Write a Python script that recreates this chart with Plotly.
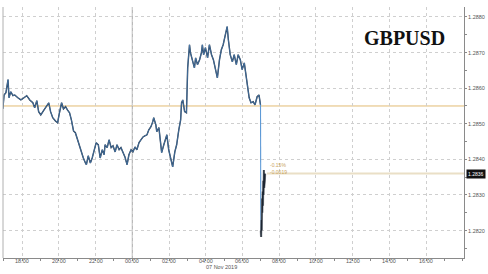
import plotly.graph_objects as go

# ---- data (GBPUSD, 6-7 Nov 2019) ----
day1_times = ["16:57","17:01","17:07","17:14","17:17","17:23","17:30","17:36","17:46","17:56",
              "18:06","18:15","18:25","18:35","18:41","18:48","18:54","19:01","19:10","19:17",
              "19:27","19:33","19:40","19:49","19:56","20:02","20:09","20:15","20:22","20:28",
              "20:35","20:41","20:48","20:54","21:01","21:07","21:14","21:20","21:27","21:30",
              "21:36","21:43","21:49","21:56","22:02","22:09","22:15","22:22","22:28","22:31",
              "22:38","22:44","22:51","22:57","23:04","23:10","23:17","23:23","23:30","23:36",
              "23:43","23:49","23:56"]
day1_prices = [1.28542,1.28581,1.28587,1.28624,1.28573,1.28590,1.28579,1.28581,1.28573,1.28567,
               1.28573,1.28579,1.28567,1.28559,1.28545,1.28565,1.28534,1.28525,1.28537,1.28545,
               1.28559,1.28534,1.28517,1.28508,1.28503,1.28531,1.28559,1.28542,1.28548,1.28539,
               1.28531,1.28511,1.28480,1.28475,1.28455,1.28441,1.28419,1.28404,1.28390,1.28385,
               1.28410,1.28390,1.28404,1.28427,1.28447,1.28441,1.28404,1.28427,1.28413,1.28441,
               1.28433,1.28455,1.28433,1.28438,1.28421,1.28441,1.28427,1.28433,1.28419,1.28407,
               1.28385,1.28413,1.28427]
day2_times = ["00:02","00:09","00:15","00:22","00:28","00:35","00:41","00:48","00:54","01:01",
              "01:07","01:10","01:17","01:20","01:27","01:33","01:36","01:43","01:49","01:53",
              "01:59","02:06","02:12","02:19","02:25","02:32","02:38","02:41","02:45","02:51",
              "02:57","03:01","03:07","03:10","03:17","03:23","03:27","03:33","03:40","03:46",
              "03:49","03:53","03:59","04:06","04:12","04:19","04:25","04:32","04:38","04:45",
              "04:51","04:57","05:04","05:10","05:14","05:20","05:27","05:33","05:40","05:46",
              "05:53","05:59","06:06","06:12","06:15","06:22","06:28","06:35","06:41","06:48",
              "06:54","06:59"]
day2_prices = [1.28421,1.28435,1.28427,1.28447,1.28455,1.28463,1.28466,1.28469,1.28483,1.28492,
               1.28506,1.28517,1.28497,1.28478,1.28489,1.28433,1.28419,1.28441,1.28455,1.28469,
               1.28427,1.28399,1.28379,1.28421,1.28441,1.28483,1.28511,1.28559,1.28567,1.28534,
               1.28531,1.28657,1.28722,1.28700,1.28680,1.28657,1.28685,1.28666,1.28680,1.28700,
               1.28722,1.28694,1.28714,1.28685,1.28722,1.28694,1.28680,1.28657,1.28629,1.28680,
               1.28708,1.28722,1.28750,1.28773,1.28736,1.28694,1.28674,1.28694,1.28666,1.28694,
               1.28680,1.28652,1.28671,1.28638,1.28610,1.28573,1.28559,1.28562,1.28553,1.28576,
               1.28581,1.28553]
post_times = ["07:00","07:01","07:02","07:03","07:04","07:05","07:06","07:07","07:08","07:09",
              "07:10","07:11","07:12","07:13","07:14"]
post_prices = [1.28200,1.28182,1.28230,1.28200,1.28290,1.28250,1.28310,1.28270,1.28340,1.28300,
               1.28370,1.28320,1.28355,1.28340,1.28360]

x_tick_times = ["2019-11-06 18:00","2019-11-06 20:00","2019-11-06 22:00","2019-11-07 00:00",
                "2019-11-07 02:00","2019-11-07 04:00","2019-11-07 06:00","2019-11-07 08:00",
                "2019-11-07 10:00","2019-11-07 12:00","2019-11-07 14:00","2019-11-07 16:00"]
x_tick_labels = ["18:00","20:00","22:00","00:00","02:00","04:00","06:00","08:00",
                 "10:00","12:00","14:00","16:00"]
y_tick_vals = [1.282, 1.283, 1.284, 1.285, 1.286, 1.287, 1.288]
y_tick_labels = ["1.2820","1.2830","1.2840","1.2850","1.2860","1.2870","1.2880"]

ref_level = 1.2855
last_price = 1.2836
chg_pct = "-0.15%"
chg_abs = "-0.0019"
title = "GBPUSD"
date_label = "07 Nov 2019"

pre_x = ["2019-11-06 " + t for t in day1_times] + ["2019-11-07 " + t for t in day2_times]
pre_y = day1_prices + day2_prices
post_x = ["2019-11-07 " + t for t in post_times]
post_y = post_prices

x_range = ["2019-11-06 16:57:30", "2019-11-07 18:04"]
y_range = [1.28123, 1.28828]

fig = go.Figure()
# main line: dark outline + blue core
for col, w in (("#22354b", 1.4), ("#4f83b8", 0.7)):
    fig.add_trace(go.Scatter(x=pre_x, y=pre_y, mode="lines",
                             line=dict(color=col, width=w), hoverinfo="skip"))
# drop segment
fig.add_trace(go.Scatter(x=[pre_x[-1], post_x[0]], y=[pre_y[-1], post_y[0]], mode="lines",
                         line=dict(color="#5e9ad6", width=1.1), hoverinfo="skip"))
for col, w in (("#8a8f96", 2.2), ("#1b2430", 1.1)):
    fig.add_trace(go.Scatter(x=post_x, y=post_y, mode="lines",
                             line=dict(color=col, width=w), hoverinfo="skip"))

shapes = [
    dict(type="line", xref="paper", x0=0, x1=1, yref="y", y0=ref_level, y1=ref_level,
         line=dict(color="#e2bb74", width=1), layer="below"),
    dict(type="line", xref="x", x0="2019-11-07 07:20", x1=x_range[1], yref="y",
         y0=last_price, y1=last_price, line=dict(color="#eadfc6", width=2), layer="below"),
    dict(type="line", xref="x", x0="2019-11-07 00:00", x1="2019-11-07 00:00", yref="paper",
         y0=0, y1=1, line=dict(color="#a8a8a8", width=1), layer="below"),
    dict(type="line", xref="paper", x0=0, x1=0, yref="paper", y0=0, y1=1,
         line=dict(color="#b0b0b0", width=1)),
]

tick_font = dict(family="Liberation Sans", size=5.5, color="#555555")
annotations = [
    dict(text="<b>" + title + "</b>", xref="paper", yref="paper", x=0.872, y=0.877,
         xanchor="center", yanchor="middle", showarrow=False,
         font=dict(family="Liberation Serif", size=20, color="#111111")),
    dict(text=chg_pct, xref="x", yref="paper", x="2019-11-07 07:24", y=0.37,
         xanchor="left", yanchor="middle", showarrow=False,
         font=dict(family="Liberation Sans", size=5, color="#c9a45c")),
    dict(text=chg_abs, xref="x", yref="paper", x="2019-11-07 07:24", y=0.343,
         xanchor="left", yanchor="middle", showarrow=False,
         font=dict(family="Liberation Sans", size=5, color="#c9a45c")),
    dict(text=f"{last_price:.4f}", xref="paper", yref="y", x=1.005, y=last_price,
         xanchor="left", yanchor="middle", showarrow=False, bgcolor="#111111",
         borderpad=1, font=dict(family="Liberation Sans", size=5, color="#ffffff")),
    dict(text=date_label, xref="x", yref="paper", x="2019-11-07 04:50", y=-0.036,
         xanchor="center", yanchor="middle", showarrow=False, font=tick_font),
]
for tx, tl in zip(x_tick_times, x_tick_labels):
    annotations.append(dict(text=tl, xref="x", yref="paper", x=tx, y=-0.012,
                            xanchor="center", yanchor="middle", showarrow=False,
                            font=tick_font))

fig.update_layout(
    width=488, height=274,
    margin=dict(l=3, r=19, t=7, b=16),
    paper_bgcolor="white", plot_bgcolor="white",
    showlegend=False,
    shapes=shapes, annotations=annotations,
    xaxis=dict(range=x_range, type="date", tickvals=x_tick_times, showticklabels=False,
               showgrid=True, gridcolor="#cfcfcf", griddash="dot", gridwidth=1,
               showline=True, linecolor="#8a8a8a", linewidth=1,
               ticks="outside", ticklen=2, tickcolor="#8a8a8a",
               minor=dict(dtick=3600 * 1000, tick0="2019-11-06 17:00", ticks="outside",
                          ticklen=2, tickcolor="#8a8a8a", showgrid=False),
               zeroline=False, fixedrange=True),
    yaxis=dict(range=y_range, side="right", tickvals=y_tick_vals, ticktext=y_tick_labels,
               showgrid=True, gridcolor="#cfcfcf", griddash="dot", gridwidth=1,
               showline=True, linecolor="#8a8a8a", linewidth=1,
               ticks="outside", ticklen=2, tickcolor="#8a8a8a",
               minor=dict(tick0=1.2815, dtick=0.0005, ticks="outside", ticklen=2,
                          tickcolor="#8a8a8a", showgrid=False),
               tickfont=tick_font, zeroline=False, fixedrange=True),
)

fig.write_html("out.html")
